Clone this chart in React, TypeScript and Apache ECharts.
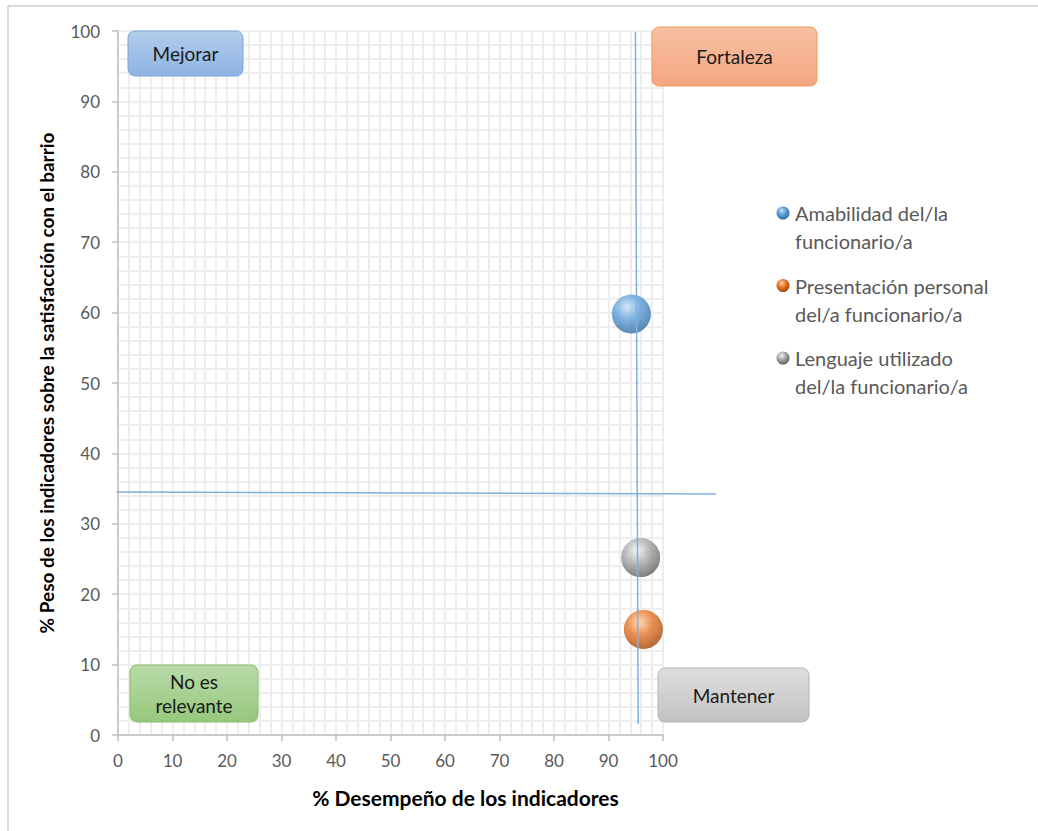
import React, { useEffect, useRef } from "react";
import * as echarts from "echarts";

// ---- Data ----
const seriesNames = [
  "Amabilidad del/la funcionario/a",
  "Presentación personal del/a funcionario/a",
  "Lenguaje utilizado del/la funcionario/a",
];
const legendLabels = [
  "Amabilidad del/la\nfuncionario/a",
  "Presentación personal\ndel/a funcionario/a",
  "Lenguaje utilizado\ndel/la funcionario/a",
];
const desempeno = [94.2, 96.4, 95.9];
const peso = [59.8, 15.0, 25.2];

// quadrant divider lines (value coordinates)
const verticalDivider = [
  [94.94, 99.86],
  [95.45, 1.56],
];
const horizontalDivider = [
  [-0.24, 34.52],
  [109.7, 34.23],
];

const xAxisTitle = "% Desempeño de los indicadores";
const yAxisTitle = "% Peso de los indicadores sobre la satisfacción con el barrio";

const quadrantLabels = ["Mejorar", "Fortaleza", "No es\nrelevante", "Mantener"];

// ---- Styles ----
const sphereStops = [
  ["#c4e2f7", "#5f9fd8", "#2c679f"],
  ["#fdd0a4", "#e8772a", "#9e4308"],
  ["#f4f4f4", "#a8a8a8", "#5a5a5a"],
];
const FONT = "Lato, 'Open Sans', sans-serif";

function sphere(stops: string[]) {
  return {
    type: "radial",
    x: 0.4,
    y: 0.32,
    r: 0.72,
    colorStops: [
      { offset: 0, color: stops[0] },
      { offset: 0.45, color: stops[1] },
      { offset: 1, color: stops[2] },
    ],
  };
}

function linGrad(top: string, bottom: string) {
  return {
    type: "linear",
    x: 0,
    y: 0,
    x2: 0,
    y2: 1,
    colorStops: [
      { offset: 0, color: top },
      { offset: 1, color: bottom },
    ],
  };
}

const boxStyles = [
  { x: 128, y: 31, w: 115, h: 45, top: "#b3cdeb", bottom: "#8eb3e2", stroke: "#7aa6da" },
  { x: 652, y: 27, w: 165, h: 59, top: "#f7c1a2", bottom: "#f4a682", stroke: "#f59a5a" },
  { x: 130, y: 665, w: 128, h: 57, top: "#b8dba7", bottom: "#97c77d", stroke: "#87bd68" },
  { x: 658, y: 668, w: 151, h: 54, top: "#dedede", bottom: "#c3c3c3", stroke: "#b5b5b5" },
];

export default function App() {
  const ref = useRef<HTMLDivElement>(null);

  useEffect(() => {
    if (!ref.current) return;
    const chart = echarts.init(ref.current, undefined, { renderer: "svg" });

    const scatterSeries = seriesNames.map((name, i) => ({
      name,
      type: "scatter",
      symbol: "circle",
      symbolSize: 39,
      z: 5,
      itemStyle: { color: sphere(sphereStops[i]) },
      data: [[desempeno[i], peso[i]]],
    }));

    const buildGraphics = (dividerLines: any[]) => {
      const graphics: any[] = [];
      // outer frame
      graphics.push({
        type: "line",
        shape: { x1: 8, y1: 6, x2: 1038, y2: 6 },
        style: { stroke: "#d9d9d9", lineWidth: 2 },
        silent: true,
      });
      graphics.push({
        type: "line",
        shape: { x1: 8, y1: 6, x2: 8, y2: 831 },
        style: { stroke: "#d9d9d9", lineWidth: 2 },
        silent: true,
      });
      dividerLines.forEach((l) => graphics.push(l));
      // quadrant boxes
      quadrantLabels.forEach((label, i) => {
        const b = boxStyles[i];
        graphics.push({
          type: "rect",
          z: 100,
          shape: { x: b.x, y: b.y, width: b.w, height: b.h, r: 7 },
          style: { fill: linGrad(b.top, b.bottom), stroke: b.stroke, lineWidth: 1 },
        });
        graphics.push({
          type: "text",
          z: 101,
          x: b.x + b.w / 2,
          y: b.y + b.h / 2,
          style: {
            text: label,
            fill: "#1a1a1a",
            font: `19px ${FONT}`,
            lineHeight: 24,
            align: "center",
            verticalAlign: "middle",
          },
        });
      });
      // legend
      legendLabels.forEach((label, i) => {
        const y0 = 213 + i * 72.5;
        graphics.push({
          type: "circle",
          z: 100,
          shape: { cx: 783, cy: y0, r: 6.5 },
          style: { fill: sphere(sphereStops[i]) },
        });
        graphics.push({
          type: "text",
          z: 100,
          x: 795,
          y: y0 - 14,
          style: {
            text: label,
            fill: "#595959",
            font: `20px ${FONT}`,
            lineHeight: 28,
            align: "left",
            verticalAlign: "top",
          },
        });
      });
      return graphics;
    };

    const axisCommon = {
      type: "value",
      min: 0,
      max: 100,
      interval: 10,
      nameLocation: "middle",
      axisLine: { show: true, lineStyle: { color: "#bfbfbf", width: 1.5 } },
      axisTick: { show: true, length: 6, lineStyle: { color: "#bfbfbf", width: 1.5 } },
      splitLine: { show: true, lineStyle: { color: "#eeeeee", width: 2 } },
      minorTick: { show: false, splitNumber: 5 },
      minorSplitLine: { show: true, lineStyle: { color: "#eeeeee", width: 2 } },
    };

    chart.setOption({
      animation: false,
      backgroundColor: "#ffffff",
      grid: { left: 118, right: 375, top: 31, bottom: 96, containLabel: false },
      legend: { show: false, data: seriesNames },
      xAxis: {
        ...axisCommon,
        name: xAxisTitle,
        nameGap: 52,
        nameTextStyle: {
          fontFamily: FONT,
          fontWeight: "bold",
          fontSize: 21,
          color: "#000",
          padding: [0, 0, 0, 150],
        },
        axisLabel: { fontFamily: FONT, fontSize: 17, color: "#595959", margin: 17 },
      },
      yAxis: {
        ...axisCommon,
        name: yAxisTitle,
        nameGap: 62,
        nameRotate: 90,
        nameTextStyle: { fontFamily: FONT, fontWeight: "bold", fontSize: 19, color: "#000" },
        axisLabel: { fontFamily: FONT, fontSize: 17, color: "#595959", margin: 18 },
      },
      series: scatterSeries,
      graphic: buildGraphics([]),
    });

    // quadrant dividers, positioned through the axes' scales
    const dividerStyle = { stroke: "#7fb0e0", lineWidth: 1.5 };
    const toLine = (pts: number[][]) => {
      const a = chart.convertToPixel({ gridIndex: 0 }, pts[0]) as number[];
      const b = chart.convertToPixel({ gridIndex: 0 }, pts[1]) as number[];
      return {
        type: "line",
        z: 50,
        silent: true,
        shape: { x1: a[0], y1: a[1], x2: b[0], y2: b[1] },
        style: dividerStyle,
      };
    };
    chart.setOption(
      { graphic: buildGraphics([toLine(verticalDivider), toLine(horizontalDivider)]) },
      { replaceMerge: ["graphic"] }
    );

    return () => chart.dispose();
  }, []);

  return (
    <div
      ref={ref}
      style={{ position: "absolute", left: 0, top: 0, width: 1038, height: 831 }}
    />
  );
}
